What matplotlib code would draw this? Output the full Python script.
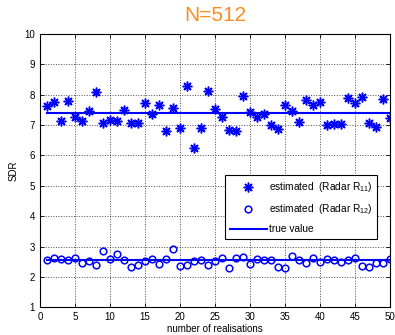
import numpy as np
import matplotlib
matplotlib.use("Agg")
import matplotlib.pyplot as plt

plt.rcParams['font.family'] = ['Liberation Sans', 'DejaVu Sans']
plt.rcParams['mathtext.fontset'] = 'custom'
plt.rcParams['mathtext.rm'] = 'Liberation Sans'

# data
realisations = np.arange(1, 51)
sdr_r11 = [7.61, 7.77, 7.13, 7.78, 7.26, 7.12, 7.46, 8.10, 7.06, 7.18,
           7.13, 7.49, 7.08, 7.08, 7.72, 7.36, 7.67, 6.80, 7.56, 6.89,
           8.27, 6.24, 6.91, 8.13, 7.53, 7.28, 6.83, 6.81, 7.96, 7.44,
           7.28, 7.36, 7.00, 6.88, 7.66, 7.46, 7.10, 7.83, 7.67, 7.77,
           6.99, 7.02, 7.02, 7.90, 7.74, 7.91, 7.08, 6.94, 7.84, 7.23]
sdr_r12 = [2.56, 2.62, 2.59, 2.57, 2.64, 2.45, 2.54, 2.40, 2.86, 2.59,
           2.77, 2.56, 2.32, 2.38, 2.53, 2.59, 2.44, 2.58, 2.93, 2.37,
           2.38, 2.54, 2.56, 2.40, 2.54, 2.64, 2.29, 2.62, 2.66, 2.44,
           2.59, 2.55, 2.56, 2.34, 2.29, 2.68, 2.55, 2.47, 2.62, 2.49,
           2.58, 2.56, 2.49, 2.55, 2.62, 2.36, 2.34, 2.47, 2.45, 2.60]
true_r11 = 7.4
true_r12 = 2.55

fig = plt.figure(figsize=(3.95, 3.35), dpi=100)
ax = fig.add_axes([40/395, 0.0824, 350/395, 0.8166])

# matlab-like asterisk marker
ax.plot(realisations, sdr_r11, ls='none', marker=(8, 2, 0), ms=7, mew=1.1,
        color='blue', label='estimated  (Radar R$_{11}$)')
ax.plot(realisations, sdr_r12, ls='none', marker='o', ms=4.8, mew=1.1,
        mfc='none', color='blue', label='estimated  (Radar R$_{12}$)')
ax.plot([1, 50], [true_r11, true_r11], color='blue', lw=1.5, label='true value')
ax.plot([1, 50], [true_r12, true_r12], color='blue', lw=1.5)

ax.set_xlim(0, 50)
ax.set_ylim(1, 10)
ax.set_xticks(np.arange(0, 51, 5))
ax.set_yticks(np.arange(1, 11, 1))
ax.grid(True, ls=':', color='black', lw=0.7, alpha=0.7)
ax.tick_params(direction='in', top=True, right=True, labelsize=7, length=3, width=0.6)
for s in ax.spines.values():
    s.set_linewidth(0.8)

ax.set_xlabel('number of realisations', fontsize=7, labelpad=1)
ax.set_ylabel('SDR', fontsize=7, labelpad=4)
fig.text(0.545, 0.955, 'N=512', color='#FF8C1A', fontsize=15, ha='center', va='center')

leg = ax.legend(loc='upper right', bbox_to_anchor=(0.964, 0.484), borderaxespad=0,
                fontsize=7.3, fancybox=False, framealpha=1, edgecolor='black',
                handlelength=3.6, handletextpad=0.2, labelspacing=0.8, borderpad=0.5)
leg.get_frame().set_linewidth(0.8)

fig.savefig('out.png', dpi=100)
